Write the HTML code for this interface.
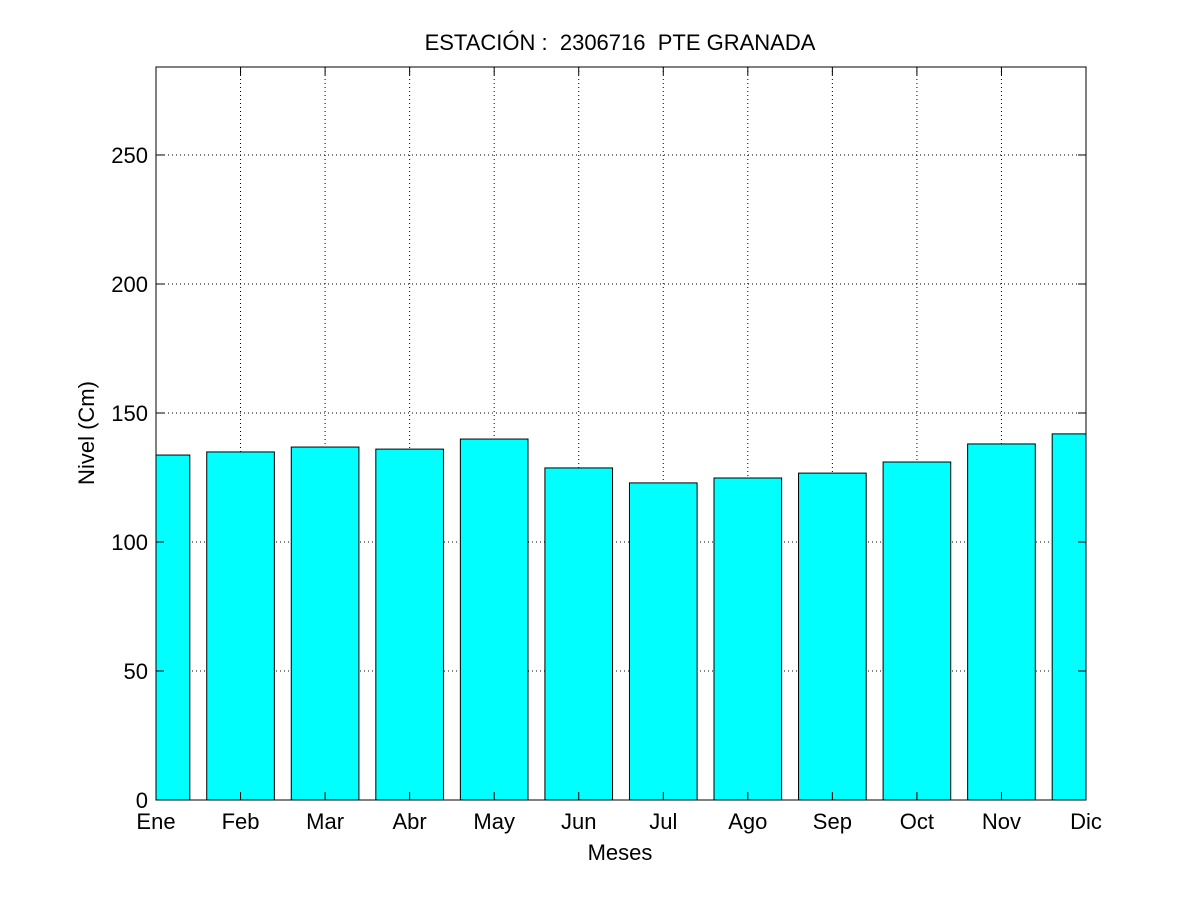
<!DOCTYPE html>
<html><head><meta charset="utf-8"><style>body{margin:0;background:#fff}svg{display:block;font-family:"Liberation Sans",Arial,sans-serif}</style></head>
<body>
<svg id="chart" width="1200" height="900"></svg>
<script>
const categories=["Ene","Feb","Mar","Abr","May","Jun","Jul","Ago","Sep","Oct","Nov","Dic"];
const values=[133.7,134.9,136.8,136,139.9,128.7,122.9,124.8,126.7,131,138,141.9];
const yTicks=[0,50,100,150,200,250];
const L=156,R=1086,T=67,B=800,YMAX=284.1;
const NS="http://www.w3.org/2000/svg";
const svg=document.getElementById('chart');
function x(i){return L+i*(R-L)/(categories.length-1);}
function y(v){return B-v*(B-T)/YMAX;}
function el(t,a,p){const e=document.createElementNS(NS,t);for(const k in a)e.setAttribute(k,a[k]);(p||svg).appendChild(e);return e;}
const clip=el('clipPath',{id:'pc'});el('rect',{x:L,y:T,width:R-L,height:B-T},clip);
const bg=el('rect',{x:L,y:T,width:R-L,height:B-T,fill:'#fff'});


// grid first
categories.forEach((c,i)=>{
 if(i>0&&i<categories.length-1){const gl=el('line',{x1:x(i),x2:x(i),y1:T,y2:B,stroke:'#000','stroke-dasharray':'1,3','stroke-width':1});
 
 }
});
yTicks.forEach(v=>{
 if(v>0){const gl=el('line',{x1:L,x2:R,y1:y(v),y2:y(v),stroke:'#000','stroke-dasharray':'1,3','stroke-width':1});
 
 }
});
const g=el('g',{'clip-path':'url(#pc)'});
const bw=0.8*(R-L)/(categories.length-1);
values.forEach((v,i)=>{const r=el('rect',{x:x(i)-bw/2,y:y(v),width:bw,height:B-y(v),fill:'#00ffff',stroke:'#000','stroke-width':1},g);

});
categories.forEach((c,i)=>{
 el('line',{x1:x(i),x2:x(i),y1:B,y2:B-8,stroke:'#000'});el('line',{x1:x(i),x2:x(i),y1:T,y2:T+8,stroke:'#000'});
 const t=el('text',{x:x(i),y:829,'text-anchor':'middle','font-size':22});t.textContent=c;
 
 
});
yTicks.forEach(v=>{
 el('line',{x1:L,x2:L+8,y1:y(v),y2:y(v),stroke:'#000'});el('line',{x1:R,x2:R-8,y1:y(v),y2:y(v),stroke:'#000'});
 const t=el('text',{x:148,y:y(v)+8,'text-anchor':'end','font-size':22});t.textContent=v;
 
 
});
const fr=el('rect',{x:L,y:T,width:R-L,height:B-T,fill:'none',stroke:'#000','stroke-width':1});


const tt=el('text',{x:620,y:50,'text-anchor':'middle','font-size':22,style:'white-space:pre'});tt.textContent='ESTACIÓN :  2306716  PTE GRANADA';


const xt=el('text',{x:620,y:860,'text-anchor':'middle','font-size':22});xt.textContent='Meses';


const yt=el('text',{x:0,y:0,'text-anchor':'middle','font-size':22,transform:'translate(94,433) rotate(-90)'});yt.textContent='Nivel (Cm)';


</script>
</body></html>
